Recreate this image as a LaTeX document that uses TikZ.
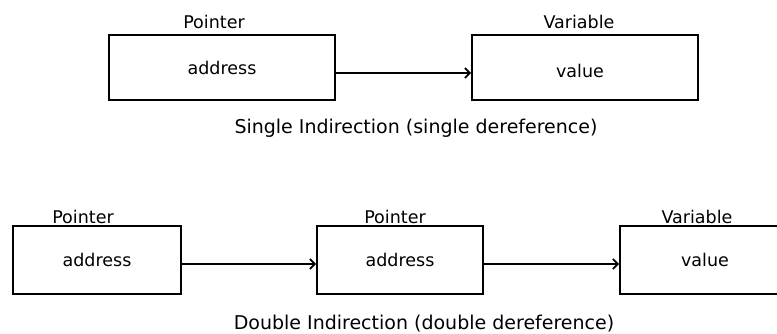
\documentclass[tikz,border=0pt]{standalone}
\usepackage{fontspec}
\setmainfont{DejaVu Sans}
\usetikzlibrary{arrows.meta}
\begin{document}
\begin{tikzpicture}[x=1pt,y=-1pt,
  box/.style={draw=black, line width=1.6pt, inner sep=0pt, font=\fontsize{17.5}{20}\selectfont},
  lbl/.style={anchor=base, inner sep=0pt, font=\fontsize{17.5}{20}\selectfont},
  caption/.style={anchor=base, inner sep=0pt, font=\fontsize{19}{22}\selectfont},
  conn/.style={line width=1.6pt, -{Straight Barb[length=5pt,width=10pt,line width=1.8pt]}}]
\useasboundingbox (0,0) rectangle (777,334);
\clip (0,0) rectangle (777,334);
\fill[white] (0,0) rectangle (777,334);

% single indirection
\node[box, minimum width=226pt, minimum height=65pt] (p1) at (222,67.5) {address};
\node[box, minimum width=226pt, minimum height=65pt] (v1) at (585,67.5) {};
\node[lbl] (v1t) at (580,78) {value};
\node[lbl] (p1l) at (214,29) {Pointer};
\node[lbl] (v1l) at (579,29) {Variable};
\draw[conn] ([yshift=-5.5pt]p1.east) -- ([yshift=-5.5pt]v1.west);
\node[caption] (cap1) at (416,134) {Single Indirection (single dereference)};

% double indirection
\node[box, minimum width=168pt, minimum height=68pt] (a) at (97,260) {address};
\node[box, minimum width=166pt, minimum height=68pt] (b) at (400,260) {address};
\node[box, minimum width=170pt, minimum height=68pt] (c) at (705,260) {value};
\node[lbl] (al) at (83,223) {Pointer};
\node[lbl] (bl) at (395,223) {Pointer};
\node[lbl] (cl) at (697,223) {Variable};
\draw[conn] ([yshift=-4pt]a.east) -- ([yshift=-4pt]b.west);
\draw[conn] ([yshift=-4pt]b.east) -- ([yshift=-4pt]c.west);
\node[caption] (cap2) at (424,329) {Double Indirection (double dereference)};
\end{tikzpicture}
\end{document}
